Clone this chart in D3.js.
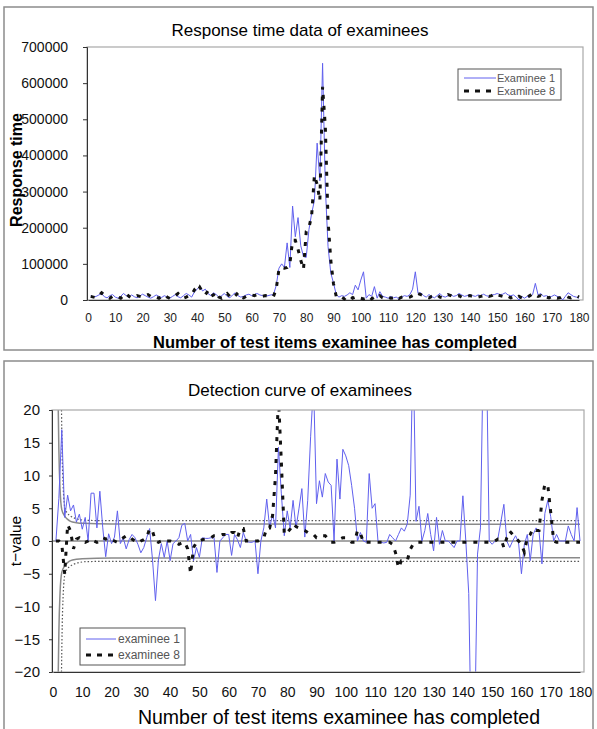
<!DOCTYPE html>
<html>
<head>
<meta charset="utf-8">
<script src="https://cdn.jsdelivr.net/npm/d3@7"></script>
<style>
  body { margin: 0; background: #fff; }
  svg { font-family: "Liberation Sans", Arial, sans-serif; }
</style>
</head>
<body>
<svg width="597" height="729"></svg>
<script>
// items 1..180
const items = d3.range(1, 181);

// response time (thousands)
const rtExaminee1 = [
  12, 8, 10, 14, 18, 9, 6, 12, 15, 8,
  5, 10, 18, 12, 7, 14, 9, 6, 11, 16,
  12, 8, 5, 9, 14, 10, 7, 12, 8, 5,
  10, 15, 9, 6, 12, 18, 14, 8, 22, 30,
  38, 25, 30, 18, 12, 20, 15, 8, 12, 18,
  10, 6, 14, 20, 12, 8, 10, 14, 16, 12,
  15, 18, 14, 12, 10, 12, 14, 15, 40, 88,
  100, 90, 158, 90, 260, 175, 228, 150, 120, 118,
  195, 240, 275, 434, 330, 655, 314, 148, 75, 47,
  15, 8, 12, 10, 14, 20, 15, 41, 28, 55,
  78, 5, 15, 10, 37, 5, 23, 10, 8, 5,
  10, 6, 8, 3, 8, 12, 10, 15, 30, 78,
  18, 20, 12, 8, 15, 10, 6, 12, 18, 10,
  8, 12, 15, 10, 12, 18, 14, 10, 12, 15,
  12, 10, 14, 12, 16, 12, 10, 14, 15, 18,
  15, 16, 20, 14, 12, 14, 8, 0, 10, 5,
  10, 8, 15, 46, 14, 18, 10, 12, 8, 10,
  14, 10, 8, 0, 10, 20, 15, 10, 8, 5
];
const rtExaminee8 = [
  10, 8, 6, 12, 20, 14, 8, 5, 10, 12,
  8, 5, 12, 18, 10, 6, 8, 12, 10, 8,
  12, 15, 10, 6, 8, 5, 10, 14, 8, 4,
  6, 12, 18, 10, 5, 8, 12, 15, 28, 20,
  35, 22, 15, 25, 10, 14, 22, 8, 5, 12,
  18, 10, 5, 12, 20, 8, 6, 10, 15, 14,
  12, 15, 12, 10, 12, 10, 8, 10, 30, 85,
  90, 88, 90, 100, 165, 165, 140, 110, 85, 190,
  200, 235, 345, 320, 275, 590, 480, 220, 110, 45,
  10, 5, 8, 3, 10, 12, 5, 8, 10, 5,
  3, 5, 10, 3, 8, 5, 12, 6, 4, 8,
  5, 6, 10, 4, 8, 10, 6, 8, 12, 10,
  18, 15, 12, 8, 6, 10, 12, 15, 8, 6,
  10, 15, 12, 8, 10, 12, 8, 6, 10, 12,
  10, 12, 8, 10, 12, 14, 10, 12, 18, 15,
  12, 10, 14, 10, 6, 8, 4, 10, 6, 3,
  8, 12, 18, 15, 10, 12, 5, 8, 6, 10,
  8, 5, 6, 10, 12, 8, 6, 10, 12, 8
];

// t-values
const tExaminee1 = [
  0, 6.5, 17, 3.6, 7, 4.6, 5.5, 2.9, 4.1, 1.8,
  3.6, 0, 7.3, 7.3, 2, 7.6, 2, -2.4, 1.1, -0.4,
  0.6, 4.6, -0.4, 0.5, -1.2, 0.2, 1, 0.5, -0.5, -1.8,
  -1, 0.5, 1.9, -2.9, -9.1, -2.9, -0.4, -2.5, 0, -3,
  -0.4, 0, 0.5, 2.4, 2.7, 0, 1, -3, -1, -2.5,
  0.5, 0.4, 0.4, 0.5, 0.5, -4.8, 0, 0.5, 1, 1,
  -2.2, 1, 0.2, -1, 1.3, 0, -0.2, -0.2, 0, -5,
  0, 2, 6.4, 2, 4.1, 2, 14.3, 7.2, 0.8, 4.6,
  2, 6.2, 2, 4.9, 8, 0.6, 6.2, 16, 24, 5.7,
  9.2, 6.7, 10.3, 9, 8.5, 0, 12.5, 6.4, 14, 13,
  11.5, 8.5, 5, 0, 1.3, 0, -0.2, 10.3, 5, 5.7,
  0, -0.2, -0.3, -0.2, 1, 0.5, 0, 1, 2, 1.5,
  2.6, 7, 30, 3, 5.3, 0, 1.6, 4.2, 1, -1.5,
  3.6, -0.5, 1.6, 0, 0, -0.5, -1, 0, 0, 6.9,
  0, -8, -35, -30, -2, 2, 30, 30, 0, -0.5,
  0, 0.5, 3, 5.6, 0, -1, 0, 0.8, -0.2, -5,
  -0.5, 1, -3, 1, 2, 1.5, -3.5, 4.2, 6.2, 3.7,
  0, 1, 0, 0, 0, 2.3, 1, 0, 5.1, 0
];
const tExaminee8 = [
  0, 0, -0.5, -5, 2.5, 1.5, -1.2, 0.3, 0.5, 0,
  -0.2, 0, 0.3, 0, -0.2, 0, 0.5, 0.3, 0.5, 0.2,
  0, -0.2, 0.2, 0.5, 0.8, 0.8, 0.3, 0, -0.3, 0,
  0.2, 0.5, 1.9, 1.5, 0, -0.2, 0, 0.2, 0, 0,
  -0.2, -0.3, -0.5, -0.3, -0.2, -1.2, -5, -1, -0.2, 0,
  0.2, 0.3, 0.5, 0.5, 0.8, 0.8, 0.8, 1, 1, 0.8,
  1.3, 1.3, 0.5, 1.9, 1.9, 0, 0, 0, 0, 0,
  0.3, 0.5, 2, 2, 3.9, 10, 22, 12, 1, 1.3,
  1.8, 2.6, 2.2, 2, 1.8, 1.6, 1.3, 1, 1, 0.5,
  0.5, 0.8, 0.8, 0.3, -0.2, -0.2, 0, 0.3, 0.5, 0.5,
  0.2, -0.2, -0.2, 1.6, 1.2, -0.2, -0.2, -0.2, -0.2, -0.2,
  -0.2, -0.2, -0.2, -0.2, -0.2, -0.5, -1.8, -4.1, -3, -3,
  -3, -1.3, -0.5, -0.2, -0.2, -0.2, -0.2, -0.2, -0.2, -0.2,
  -0.2, -0.2, -0.2, -0.2, -0.2, -0.2, -0.2, -0.2, -0.2, -0.2,
  -0.2, -0.2, -0.2, -0.2, -0.2, -0.2, -0.2, -0.2, -0.2, -0.2,
  0, 0.3, 0.3, -1, 0.5, 1.5, 1, 0.5, 0, -0.5,
  -1.7, 0.5, 1, 1.9, 1.6, 1.6, 6.2, 8.7, 8.5, 4.4,
  0, -0.2, -0.2, -0.2, -0.2, -0.2, -0.2, -0.2, -0.2, -0.2
];

// critical-value curves [item, t]
const critSolid = [[1.8, 20], [2, 14], [2.4, 8], [3, 4.8], [4, 3.8], [5, 3.3], [6, 3.0], [8, 2.8], [10, 2.7], [20, 2.6], [180, 2.55]];
const critDotted = [[2.9, 20], [3.1, 14], [3.5, 8], [4.1, 5], [5, 4.2], [6, 3.8], [8, 3.4], [11.5, 3.15], [20, 3.1], [180, 3.1]];

const xTicks = d3.range(0, 181, 10);
const rtTicks = d3.range(0, 700001, 100000);
const tTicks = [-20, -15, -10, -5, 0, 5, 10, 15, 20];

const svg = d3.select("svg");
const blue = "#6060ee";
const dash = "4,7";

// panel frames
svg.append("rect").attr("x", 4).attr("y", 7).attr("width", 589).attr("height", 343)
  .attr("fill", "#fff").attr("stroke", "#8c8c8c").attr("stroke-width", 1.5);
svg.append("rect").attr("x", 4).attr("y", 361).attr("width", 589).attr("height", 380)
  .attr("fill", "#fff").attr("stroke", "#8c8c8c").attr("stroke-width", 1.5);

// ---------- top chart ----------
const x1 = d3.scaleLinear().domain([0, 180]).range([88, 579]);
const y1 = d3.scaleLinear().domain([0, 700000]).range([300, 47]);

svg.append("rect").attr("x", 87).attr("y", 47).attr("width", 496).attr("height", 253)
  .attr("fill", "none").attr("stroke", "#a8a8a8").attr("stroke-width", 1.2);

svg.append("text").attr("x", 300).attr("y", 36).attr("text-anchor", "middle")
  .style("font-size", "17px").text("Response time data of examinees");

const yAx1 = svg.append("g").attr("transform", "translate(87,0)")
  .call(d3.axisLeft(y1).tickValues(rtTicks).tickFormat(d3.format("d")).tickSize(4).tickPadding(15));
yAx1.select(".domain").attr("stroke", "#333");
yAx1.selectAll(".tick line").attr("stroke", "#333");
yAx1.selectAll(".tick text").style("font-size", "14px").attr("fill", "#111")
  .style("font-family", "'Liberation Sans', Arial, sans-serif");

const xAx1 = svg.append("g").attr("transform", "translate(0,300)")
  .call(d3.axisBottom(x1).tickValues(xTicks).tickSize(0).tickPadding(13));
xAx1.select(".domain").attr("stroke", "#333");
xAx1.selectAll(".tick text").style("font-size", "12px").attr("fill", "#222")
  .style("font-family", "'Liberation Sans', Arial, sans-serif");

const line1 = d3.line().x((d, i) => x1(items[i])).y(d => y1(d * 1000));
svg.append("path").datum(rtExaminee1).attr("d", line1)
  .attr("fill", "none").attr("stroke", blue).attr("stroke-width", 1);
svg.append("path").datum(rtExaminee8).attr("d", line1)
  .attr("fill", "none").attr("stroke", "#111").attr("stroke-width", 3)
  .attr("stroke-dasharray", dash);

svg.append("text").attr("transform", "translate(16,170) rotate(-90)")
  .attr("dy", "0.35em")
  .attr("text-anchor", "middle").style("font-size", "16px").style("font-weight", "bold")
  .text("Response time");
svg.append("text").attr("x", 335).attr("y", 348).attr("text-anchor", "middle")
  .style("font-size", "16.5px").style("font-weight", "bold")
  .text("Number of test items examinee has completed");

// legend top
const lg1 = svg.append("g").attr("transform", "translate(458,69)");
lg1.append("rect").attr("width", 103).attr("height", 31)
  .attr("fill", "#fff").attr("stroke", "#555").attr("stroke-width", 1);
lg1.append("line").attr("x1", 6).attr("x2", 38).attr("y1", 9).attr("y2", 9)
  .attr("stroke", blue).attr("stroke-width", 1);
lg1.append("line").attr("x1", 6).attr("x2", 38).attr("y1", 22).attr("y2", 22)
  .attr("stroke", "#111").attr("stroke-width", 3).attr("stroke-dasharray", "5,6");
lg1.append("text").attr("x", 39).attr("y", 13).style("font-size", "11px").attr("fill", "#555").text("Examinee 1");
lg1.append("text").attr("x", 39).attr("y", 26).style("font-size", "11px").attr("fill", "#555").text("Examinee 8");

// ---------- bottom chart ----------
const x2 = d3.scaleLinear().domain([0, 180]).range([53, 580]);
const y2 = d3.scaleLinear().domain([-20, 20]).range([672, 410]);

svg.append("defs").append("clipPath").attr("id", "clip2")
  .append("rect").attr("x", 52).attr("y", 410).attr("width", 532).attr("height", 262);

svg.append("text").attr("x", 300).attr("y", 396).attr("text-anchor", "middle")
  .style("font-size", "17px").text("Detection curve of examinees");

const plot2 = svg.append("g").attr("clip-path", "url(#clip2)");

// zero line and critical curves
plot2.append("line").attr("x1", x2(0)).attr("x2", x2(180)).attr("y1", y2(0)).attr("y2", y2(0))
  .attr("stroke", "#8a8a8a").attr("stroke-width", 1.5);
const critLine = d3.line().x(d => x2(d[0])).y(d => y2(d[1])).curve(d3.curveMonotoneX);
[1, -1].forEach(s => {
  plot2.append("path").datum(critSolid.map(d => [d[0], s * d[1]])).attr("d", critLine)
    .attr("fill", "none").attr("stroke", "#8a8a8a").attr("stroke-width", 1.5);
  plot2.append("path").datum(critDotted.map(d => [d[0], s * d[1]])).attr("d", critLine)
    .attr("fill", "none").attr("stroke", "#555").attr("stroke-width", 1.2)
    .attr("stroke-dasharray", "1.5,2");
});

const line2 = d3.line().x((d, i) => x2(items[i])).y(d => y2(d));
plot2.append("path").datum(tExaminee1).attr("d", line2)
  .attr("fill", "none").attr("stroke", blue).attr("stroke-width", 1);
plot2.append("path").datum(tExaminee8).attr("d", line2)
  .attr("fill", "none").attr("stroke", "#111").attr("stroke-width", 3)
  .attr("stroke-dasharray", dash);

svg.append("rect").attr("x", 52).attr("y", 410).attr("width", 532).attr("height", 262)
  .attr("fill", "none").attr("stroke", "#a8a8a8").attr("stroke-width", 1.2);

const yAx2 = svg.append("g").attr("transform", "translate(52,0)")
  .call(d3.axisLeft(y2).tickValues(tTicks).tickFormat(d => d < 0 ? "\u2212" + Math.abs(d) : d).tickSize(3).tickPadding(9));
yAx2.select(".domain").attr("stroke", "#333");
yAx2.selectAll(".tick line").attr("stroke", "#333");
yAx2.selectAll(".tick text").style("font-size", "15px").attr("fill", "#111")
  .style("font-family", "'Liberation Sans', Arial, sans-serif");

const xAx2 = svg.append("g").attr("transform", "translate(0,672)")
  .call(d3.axisBottom(x2).tickValues(xTicks).tickSize(0).tickPadding(15));
xAx2.select(".domain").attr("stroke", "#333");
xAx2.selectAll(".tick text").style("font-size", "14px").attr("fill", "#111")
  .style("font-family", "'Liberation Sans', Arial, sans-serif");

svg.append("text").attr("transform", "translate(21,541) rotate(-90)")
  .attr("text-anchor", "middle").style("font-size", "15.5px").text("t\u2212value");
svg.append("text").attr("x", 339).attr("y", 724).attr("text-anchor", "middle")
  .style("font-size", "19.5px").text("Number of test items examinee has completed");

// legend bottom
const lg2 = svg.append("g").attr("transform", "translate(80,628)");
lg2.append("rect").attr("width", 105).attr("height", 37)
  .attr("fill", "#fff").attr("stroke", "#555").attr("stroke-width", 1);
lg2.append("line").attr("x1", 6).attr("x2", 36).attr("y1", 11).attr("y2", 11)
  .attr("stroke", blue).attr("stroke-width", 1);
lg2.append("line").attr("x1", 6).attr("x2", 36).attr("y1", 27).attr("y2", 27)
  .attr("stroke", "#111").attr("stroke-width", 3).attr("stroke-dasharray", "5,6");
lg2.append("text").attr("x", 38).attr("y", 15).style("font-size", "12px").attr("fill", "#555").text("examinee 1");
lg2.append("text").attr("x", 38).attr("y", 31).style("font-size", "12px").attr("fill", "#555").text("examinee 8");
</script>
</body>
</html>
